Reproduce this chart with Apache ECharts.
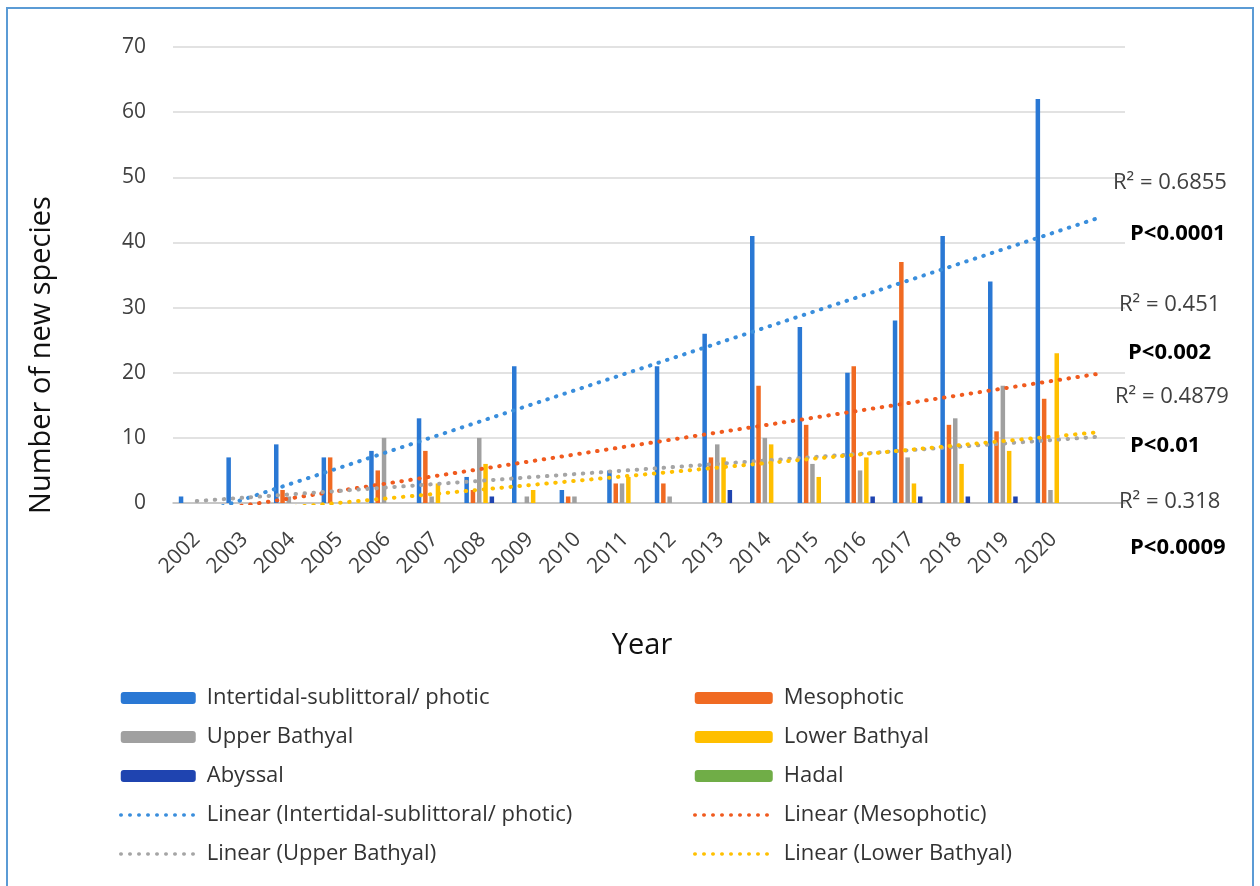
<!DOCTYPE html>
<html>
<head>
<meta charset="utf-8">
<script src="https://cdn.jsdelivr.net/npm/echarts@6/dist/echarts.min.js"></script>
<style>
html,body{margin:0;padding:0;background:#fff;}
#c{width:1260px;height:886px;}
</style>
</head>
<body>
<div id="c"></div>
<script>
const years = ['2002','2003','2004','2005','2006','2007','2008','2009','2010','2011','2012','2013','2014','2015','2016','2017','2018','2019','2020',''];
const intertidal = [1,7,9,7,8,13,4,21,2,5,21,26,41,27,20,28,41,34,62];
const mesophotic = [0,0,2,7,5,8,2,0,1,3,3,7,18,12,21,37,12,11,16];
const upperBathyal = [0,0,1,0,10,1,10,1,1,3,1,9,10,6,5,7,13,18,2];
const lowerBathyal = [0,0,0,0,0,3,6,2,0,4,0,7,9,4,7,3,6,8,23];
const abyssal = [0,0,0,0,0,0,1,0,0,0,0,2,0,0,1,1,1,1,0];
const hadal = [0,0,0,0,0,0,0,0,0,0,0,0,0,0,0,0,0,0,0];
// trendline values read at the first (2002) and last (one period forecast) category
const trendIntertidal = [-1.8, 43.9];
const trendMesophotic = [-1.5, 19.9];
const trendUpper = [0.3, 10.2];
const trendLower = [-2.0, 10.9];
const yTicks = [0,10,20,30,40,50,60,70];
const annotations = [
  {t:'R\u00B2 = 0.6855', x:1113, y:187, b:false},
  {t:'P<0.0001', x:1130, y:238, b:true},
  {t:'R\u00B2 = 0.451', x:1119, y:309, b:false},
  {t:'P<0.002', x:1128, y:357, b:true},
  {t:'R\u00B2 = 0.4879', x:1115, y:401, b:false},
  {t:'P<0.01', x:1130, y:450, b:true},
  {t:'R\u00B2 = 0.318', x:1119, y:506, b:false},
  {t:'P<0.0009', x:1130, y:552, b:true}
];

function trend(ends){
  const a = years.map(()=>null);
  a[0] = ends[0];
  a[years.length-1] = ends[1];
  return a;
}
const FONT = '"Open Sans", "Noto Sans", sans-serif';
const colors = {
  inter:'#2A78D4', meso:'#F06A22', upper:'#A0A0A0', lower:'#FFBF00', aby:'#1F44B0', hadal:'#70AD47'
};
const DOT = [0.5, 8.5];
function bar(name, data, color){
  return {name, type:'bar', data, barWidth:4.5, barGap:'40%',
    itemStyle:{color}, emphasis:{disabled:true}};
}
function line(name, data, color){
  return {name, type:'line', data, connectNulls:true, symbol:'none', showSymbol:false, clip:true, z:5,
    lineStyle:{color, width:4, type:DOT, cap:'round'}, itemStyle:{color},
    emphasis:{disabled:true}};
}
function lineLegend(name){
  return {name, itemStyle:{opacity:0}, lineStyle:{width:3.5, type:DOT, cap:'round'}};
}
const legendText = {fontFamily:FONT, fontSize:22, color:'#333', padding:[0,0,0,6], lineHeight:24};
const chart = echarts.init(document.getElementById('c'), null, {renderer:'canvas'});
chart.setOption({
  animation:false,
  backgroundColor:'#fff',
  grid:{left:173, right:135, top:47, bottom:383, containLabel:false},
  xAxis:{type:'category', data:years, boundaryGap:true,
    axisLine:{lineStyle:{color:'#BFBFBF', width:1.5}}, axisTick:{show:false},
    axisLabel:{rotate:45, interval:0, fontFamily:FONT, fontSize:21, color:'#404040', margin:33}},
  yAxis:{type:'value', min:0, max:70, interval:10,
    axisLine:{show:false}, axisTick:{show:false},
    axisLabel:{fontFamily:FONT, fontSize:21, color:'#404040', margin:27,
      formatter:v=>yTicks.includes(v)?String(v):''},
    splitLine:{lineStyle:{color:'#D9D9D9', width:1.5}}},
  legend:[
    {left:114, top:681, orient:'vertical', itemWidth:75, itemHeight:12, itemGap:15, selectedMode:false,
     textStyle:legendText,
     data:['Intertidal-sublittoral/ photic','Upper Bathyal','Abyssal',lineLegend('Linear (Intertidal-sublittoral/ photic)'),lineLegend('Linear (Upper Bathyal)')]},
    {left:688, top:681, orient:'vertical', itemWidth:78, itemHeight:12, itemGap:15, selectedMode:false,
     textStyle:legendText,
     data:['Mesophotic','Lower Bathyal','Hadal',lineLegend('Linear (Mesophotic)'),lineLegend('Linear (Lower Bathyal)')]}
  ],
  graphic:[
    {type:'rect', shape:{x:7, y:8, width:1246, height:900}, style:{fill:'none', stroke:'#5B9BD5', lineWidth:2}, silent:true},
    {type:'text', x:42, y:355, rotation:Math.PI/2, z:10,
     style:{text:'Number of new species', fontFamily:FONT, fontSize:29, fill:'#111', align:'center', verticalAlign:'middle'}},
    {type:'text', x:642, y:646, z:10,
     style:{text:'Year', fontFamily:FONT, fontSize:29, fill:'#111', align:'center', verticalAlign:'middle'}}
  ].concat(annotations.map(a=>({type:'text', left:a.x, top:a.y-15, z:10,
    style:{text:a.t, fontFamily:FONT, fontSize:22, fontWeight:a.b?'bold':'normal', fill:a.b?'#000':'#404040'}}))),
  series:[
    bar('Intertidal-sublittoral/ photic', intertidal, colors.inter),
    bar('Mesophotic', mesophotic, colors.meso),
    bar('Upper Bathyal', upperBathyal, colors.upper),
    bar('Lower Bathyal', lowerBathyal, colors.lower),
    bar('Abyssal', abyssal, colors.aby),
    bar('Hadal', hadal, colors.hadal),
    line('Linear (Intertidal-sublittoral/ photic)', trend(trendIntertidal), '#3A8EDC'),
    line('Linear (Mesophotic)', trend(trendMesophotic), '#F05A1E'),
    line('Linear (Upper Bathyal)', trend(trendUpper), '#A5A5A5'),
    line('Linear (Lower Bathyal)', trend(trendLower), '#FFC000')
  ]
});
</script>
</body>
</html>
